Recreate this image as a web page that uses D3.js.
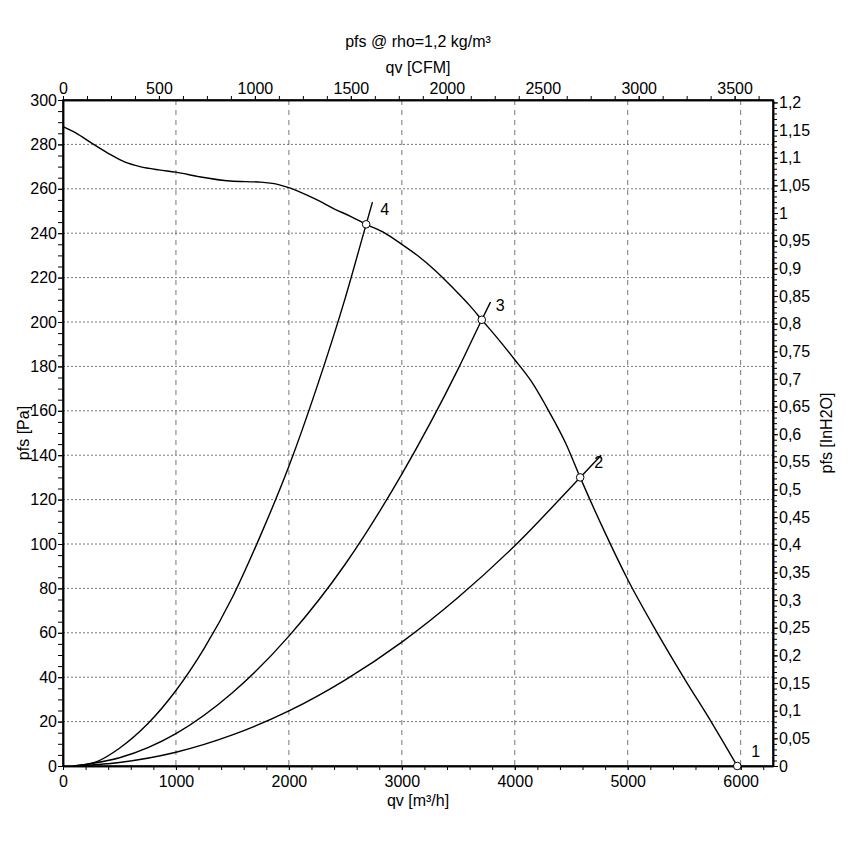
<!DOCTYPE html>
<html>
<head>
<meta charset="utf-8">
<script src="https://cdn.jsdelivr.net/npm/d3@7"></script>
<style>
body{margin:0;background:#fff;}
text{font-family:'Liberation Sans',Arial,sans-serif;font-size:16px;fill:#000;}
</style>
</head>
<body>
<div id="chart"></div>
<script>

// fan curve: [qv m3/h, pfs Pa]
var fanCurve = [[0,288],[120,285],[240,281],[400,276],[550,272],[682,270],[850,268.5],[1000,267.5],[1200,265.5],[1480,263.5],[1750,263],[1900,262],[2000,260.5],[2100,258.5],[2250,255],[2400,251],[2550,247.5],[2684,244],[2850,240],[2985,235.5],[3150,229.5],[3300,223],[3450,215.5],[3600,207.5],[3708,201],[3850,192.5],[4000,183],[4150,173],[4300,160],[4450,145.5],[4579,130],[4800,105],[5000,84],[5250,61],[5500,39.5],[5750,19],[5970,0]];

// system curves
var system4 = [[90,0],[300,2],[500,8],[750,19],[1000,34],[1250,53],[1500,76],[1750,104],[2000,135],[2250,171],[2500,211],[2684,244],[2740,254]];
var system3 = [[90,0],[500,3.7],[1000,14.6],[1500,33],[2000,58.5],[2500,91],[3000,131.5],[3500,179],[3708,201],[3785,209]];
var system2 = [[90,0],[500,1.6],[1000,6.2],[1500,14],[2000,24.8],[2500,38.8],[3000,55.8],[3500,76],[4000,99.2],[4579,130],[4765,140]];

var opNames = ['1','2','3','4'];
var opQv = [5970,4579,3708,2684];
var opPa = [0,130,201,244];

var qvTicks = [0,1000,2000,3000,4000,5000,6000];
var cfmTicks = [0,500,1000,1500,2000,2500,3000,3500];
var paTicks = [0,20,40,60,80,100,120,140,160,180,200,220,240,260,280,300];
var inTicks = [0,0.05,0.1,0.15,0.2,0.25,0.3,0.35,0.4,0.45,0.5,0.55,0.6,0.65,0.7,0.75,0.8,0.85,0.9,0.95,1,1.05,1.1,1.15,1.2];

var width = 849, height = 852;
var pLeft = 63, pRight = 773, pTop = 100, pBottom = 766;
var CFM = 1.699011, INH2O = 249.0889;

var svg = d3.select('#chart').append('svg')
	.attr('width', width)
	.attr('height', height);

var x = d3.scaleLinear().domain([0, 3700*CFM]).range([pLeft, pRight]);
var xc = d3.scaleLinear().domain([0, 3700]).range([pLeft, pRight]);
var y = d3.scaleLinear().domain([0, 300]).range([pBottom, pTop]);
var yi = d3.scaleLinear().domain([0, 300/INH2O]).range([pBottom, pTop]);

function comma(v){ return String(+v.toFixed(2)).replace('.', ','); }
var plain = d3.format('d');

// grid
svg.append('g').selectAll('line')
	.data(paTicks.filter(function(d){ return d > 0 && d < 300; }))
	.enter().append('line')
	.attr('x1', pLeft).attr('x2', pRight)
	.attr('y1', function(d){ return y(d); })
	.attr('y2', function(d){ return y(d); })
	.attr('stroke', '#777')
	.attr('stroke-dasharray', '2,2');

svg.append('g').selectAll('line')
	.data(qvTicks.filter(function(d){ return d > 0; }))
	.enter().append('line')
	.attr('y1', pTop).attr('y2', pBottom)
	.attr('x1', function(d){ return x(d); })
	.attr('x2', function(d){ return x(d); })
	.attr('stroke', '#777')
	.attr('stroke-dasharray', '5,5');

// axes
function axis(gen, tx, ty){
	var g = svg.append('g').attr('transform', 'translate(' + tx + ',' + ty + ')').call(gen);
	g.selectAll('path').attr('stroke', '#000').attr('stroke-width', 1.5);
	g.selectAll('line').attr('stroke', '#000');
	g.selectAll('text').style('font-family', "'Liberation Sans',Arial,sans-serif").style('font-size', '16px').attr('fill', '#000');
	return g;
}

axis(d3.axisBottom(x).tickValues(d3.range(0, 6286, 200)).tickFormat('').tickSize(4).tickSizeOuter(0), 0, pBottom);
axis(d3.axisBottom(x).tickValues(qvTicks).tickFormat(plain).tickSize(4).tickPadding(6).tickSizeOuter(0), 0, pBottom);

axis(d3.axisTop(xc).tickValues(d3.range(0, 3701, 125)).tickFormat('').tickSize(4).tickSizeOuter(0), 0, pTop);
axis(d3.axisTop(xc).tickValues(cfmTicks).tickFormat(plain).tickSize(4).tickPadding(2).tickSizeOuter(0), 0, pTop);

axis(d3.axisLeft(y).tickValues(d3.range(0, 301, 5)).tickFormat('').tickSize(5).tickSizeOuter(0), pLeft, 0);
axis(d3.axisLeft(y).tickValues(paTicks).tickFormat(plain).tickSize(5).tickPadding(1).tickSizeOuter(0), pLeft, 0);

axis(d3.axisRight(yi).tickValues(d3.range(0, 1.205, 0.01)).tickFormat('').tickSize(4).tickSizeOuter(0), pRight, 0);
axis(d3.axisRight(yi).tickValues(inTicks).tickFormat(comma).tickSize(5).tickPadding(1).tickSizeOuter(0), pRight, 0);

// frame edges
svg.append('rect')
	.attr('x', pLeft).attr('y', pTop)
	.attr('width', pRight - pLeft).attr('height', pBottom - pTop)
	.attr('fill', 'none').attr('stroke', '#000').attr('stroke-width', 1.5);

// titles
svg.append('text').attr('x', 418).attr('y', 47).attr('text-anchor', 'middle').text('pfs @ rho=1,2 kg/m³');
svg.append('text').attr('x', 418).attr('y', 73).attr('text-anchor', 'middle').text('qv [CFM]');
svg.append('text').attr('x', 418).attr('y', 806).attr('text-anchor', 'middle').text('qv [m³/h]');
svg.append('text').attr('transform', 'translate(29,433) rotate(-90)').attr('text-anchor', 'middle').text('pfs [Pa]');
svg.append('text').attr('transform', 'translate(832,433) rotate(-90)').attr('text-anchor', 'middle').text('pfs [InH2O]');

// curves
var line = d3.line()
	.x(function(d){ return x(d[0]); })
	.y(function(d){ return y(d[1]); })
	.curve(d3.curveMonotoneX);

[system2, system3, system4, fanCurve].forEach(function(c){
	svg.append('path')
		.attr('d', line(c))
		.attr('fill', 'none')
		.attr('stroke', '#000')
		.attr('stroke-width', 1.4);
});

// operating points
var pts = svg.append('g');
opNames.forEach(function(n, i){
	pts.append('circle')
		.attr('cx', x(opQv[i])).attr('cy', y(opPa[i]))
		.attr('r', 3.8)
		.attr('fill', '#fff').attr('stroke', '#000').attr('stroke-width', 1);
	pts.append('text')
		.attr('x', x(opQv[i]) + 14).attr('y', y(opPa[i]) - 9)
		.text(n);
});

</script>
</body>
</html>
